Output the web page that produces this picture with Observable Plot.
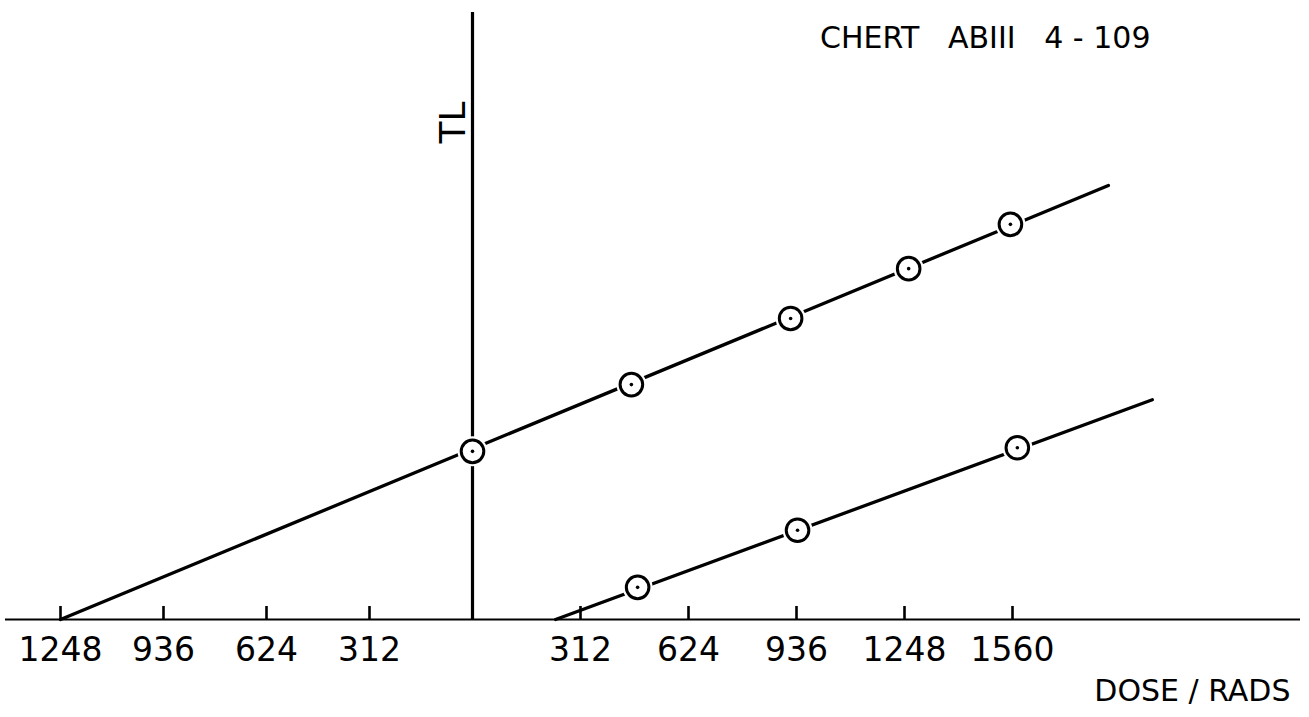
<!DOCTYPE html>
<html>
<head>
<meta charset="utf-8">
<script src="https://cdn.jsdelivr.net/npm/d3@7"></script>
<script src="https://cdn.jsdelivr.net/npm/@observablehq/plot@0.6"></script>
<style>
  html, body { margin: 0; padding: 0; background: #fff; }
  #chart svg { display: block; background: #fff; }
</style>
</head>
<body>
<div id="chart"></div>
<script>
// Tick values on the dose axis (negative = extrapolated to the left of the TL axis)
const xTicks = [-1248, -936, -624, -312, 312, 624, 936, 1248, 1560];

// Upper series (additive dose), dose in rads vs TL (arbitrary units)
const upperDose = [0, 459, 919, 1260, 1554];
const upperTL = [27.7, 38.7, 49.6, 57.8, 65.1];

// Lower series
const lowerDose = [477, 939, 1574];
const lowerTL = [5.3, 14.7, 28.3];

// Fitted straight lines (end points)
const upperFitDose = [-1248, 1837];
const upperFitTL = [0, 71.5];
const lowerFitDose = [240, 1964];
const lowerFitTL = [0, 36.2];

const titleText = "CHERT\u00A0\u00A0\u00A0ABIII\u00A0\u00A0\u00A04 - 109";
const xLabel = "DOSE / RADS";
const yLabel = "TL";

const upperPts = upperDose.map((d, i) => ({dose: d, tl: upperTL[i]}));
const lowerPts = lowerDose.map((d, i) => ({dose: d, tl: lowerTL[i]}));
const allPts = upperPts.concat(lowerPts);
const upperFit = upperFitDose.map((d, i) => ({dose: d, tl: upperFitTL[i]}));
const lowerFit = lowerFitDose.map((d, i) => ({dose: d, tl: lowerFitTL[i]}));

const font = "DejaVu Sans, sans-serif";

// the hand-drawn axis is slightly compressed on the extrapolated (negative) side
const negSquash = 412 / 432;

const chart = Plot.plot({
  width: 1309,
  height: 717,
  marginTop: 12,
  marginBottom: 98,
  marginLeft: 5,
  marginRight: 9,
  style: {fontFamily: font, background: "#fff", color: "#000"},
  x: {transform: d => (d < 0 ? d * negSquash : d), domain: [-1248 * negSquash, 1560], range: [60, 1012], axis: null},
  y: {domain: [0, 100], range: [619, 12], axis: null},
  marks: [
    // horizontal dose axis
    Plot.ruleY([0], {stroke: "#000", strokeWidth: 2.2}),
    // tick marks pointing upward
    Plot.ruleX(xTicks, {x: d => d, y1: 0, y2: 0, insetTop: -13, stroke: "#000", strokeWidth: 2.6}),
    // tick labels
    Plot.text(xTicks, {x: d => d, y: 0, text: d => String(Math.abs(d)), dy: 31, fontSize: 33, fill: "#000", lineAnchor: "middle"}),
    // vertical TL axis
    Plot.ruleX([0], {stroke: "#000", strokeWidth: 3.2}),
    // fitted lines
    Plot.line(upperFit, {x: "dose", y: "tl", stroke: "#000", strokeWidth: 3.3}),
    Plot.line(lowerFit, {x: "dose", y: "tl", stroke: "#000", strokeWidth: 3.3}),
    // white gaps around points
    Plot.dot(allPts, {x: "dose", y: "tl", r: 15, fill: "#fff", stroke: null}),
    // circled points
    Plot.dot(allPts, {x: "dose", y: "tl", r: 11.3, fill: "none", stroke: "#000", strokeWidth: 3}),
    Plot.dot(allPts, {x: "dose", y: "tl", r: 1.8, fill: "#000", stroke: null}),
    // TL label rotated beside the vertical axis
    Plot.text([0], {x: d => d, frameAnchor: "top", text: () => yLabel, rotate: -90, dx: -33, dy: 110, fontSize: 36, fill: "#000"}),
    // title
    Plot.text([titleText], {frameAnchor: "top-right", text: d => d, dx: -150, dy: 26, textAnchor: "end", lineAnchor: "middle", fontSize: 30, fill: "#000"}),
    // x label
    Plot.text([xLabel], {frameAnchor: "bottom-right", text: d => d, dx: -10, dy: 72, textAnchor: "end", lineAnchor: "middle", fontSize: 30, fill: "#000"})
  ]
});

document.getElementById("chart").appendChild(chart);
</script>
</body>
</html>
